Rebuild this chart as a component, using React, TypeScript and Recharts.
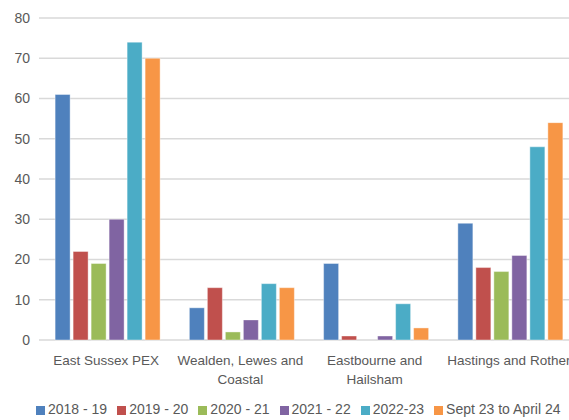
import React from "react";
import {
  Bar,
  BarChart,
  CartesianGrid,
  Legend,
  XAxis,
  YAxis,
} from "recharts";

const areas = [
  "East Sussex PEX",
  "Wealden, Lewes and Coastal",
  "Eastbourne and Hailsham",
  "Hastings and Rother",
];
// how the category labels break onto lines under the axis
const areaLines = [
  ["East Sussex PEX"],
  ["Wealden, Lewes and", "Coastal"],
  ["Eastbourne and", "Hailsham"],
  ["Hastings and Rother"],
];

const y2018 = [61, 8, 19, 29];
const y2019 = [22, 13, 1, 18];
const y2020 = [19, 2, 0, 17];
const y2021 = [30, 5, 1, 21];
const y2022 = [74, 14, 9, 48];
const y2023 = [70, 13, 3, 54];

const yTicks = [0, 10, 20, 30, 40, 50, 60, 70, 80];

const series = [
  { key: "a", name: "2018 - 19", values: y2018, color: "#4F81BD" },
  { key: "b", name: "2019 - 20", values: y2019, color: "#C0504D" },
  { key: "c", name: "2020 - 21", values: y2020, color: "#9BBB59" },
  { key: "d", name: "2021 - 22", values: y2021, color: "#8064A2" },
  { key: "e", name: "2022-23", values: y2022, color: "#4BACC6" },
  { key: "f", name: "Sept 23 to April 24", values: y2023, color: "#F79646" },
];

const data = areas.map((area, i) => {
  const row: Record<string, string | number> = { area };
  series.forEach((s) => {
    row[s.key] = s.values[i];
  });
  return row;
});

const FONT = "'Liberation Sans', Arial, sans-serif";
const GRAY = "#595959";

function AreaTick(props: any) {
  const { x, y, index } = props;
  const lines = areaLines[index] ?? [props.payload.value];
  return (
    <text
      x={x}
      y={y + 17}
      textAnchor="middle"
      fontFamily={FONT}
      fontSize={13.5}
      fill={GRAY}
    >
      {lines.map((l, i) => (
        <tspan key={i} x={x} dy={i === 0 ? 0 : 18.5}>
          {l}
        </tspan>
      ))}
    </text>
  );
}

export default function App() {
  return (
    <div
      style={{
        position: "absolute",
        left: 0,
        top: 0,
        width: 569,
        height: 420,
        overflow: "hidden",
        background: "#fff",
      }}
    >
      <BarChart
        width={576}
        height={420}
        data={data}
        margin={{ top: 18, right: 0, left: 0, bottom: 0 }}
        barCategoryGap="12%"
        barGap={3}
      >
        <CartesianGrid
          vertical={false}
          stroke="#d9d9d9"
          strokeWidth={1.3}
        />
        <XAxis
          dataKey="area"
          axisLine={false}
          tickLine={false}
          height={50}
          interval={0}
          tick={<AreaTick />}
        />
        <YAxis
          domain={[0, 80]}
          ticks={yTicks}
          width={39}
          axisLine={false}
          tickLine={false}
          tickMargin={3}
          tick={{ fill: GRAY, fontSize: 14, fontFamily: FONT }}
        />
        <Legend
          verticalAlign="bottom"
          align="left"
          height={30}
          iconType="square"
          iconSize={9}
          wrapperStyle={{
            left: 36,
            bottom: -9,
            fontFamily: FONT,
            fontSize: 14,
            lineHeight: "20px",
            whiteSpace: "nowrap",
          }}
          formatter={(value: string) => (
            <span style={{ color: GRAY, marginLeft: -1 }}>{value}</span>
          )}
        />
        {series.map((s) => (
          <Bar
            key={s.key}
            dataKey={s.key}
            name={s.name}
            fill={s.color}
            stroke="#ffffff"
            strokeOpacity={0.5}
            strokeWidth={0.8}
            isAnimationActive={false}
          />
        ))}
      </BarChart>
    </div>
  );
}
